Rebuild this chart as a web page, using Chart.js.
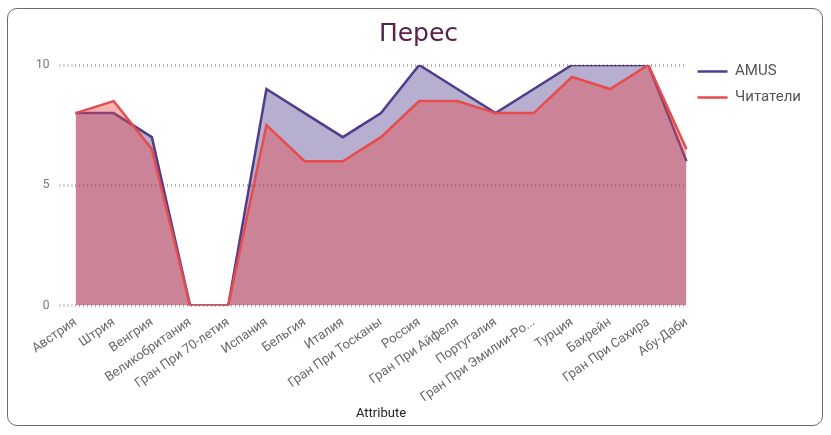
<!DOCTYPE html>
<html>
<head>
<meta charset="utf-8">
<script src="https://cdn.jsdelivr.net/npm/chart.js@4"></script>
<style>
    html, body { margin: 0; padding: 0; background: #fff; }
    #frame {
        position: absolute;
        left: 7px; top: 8px;
        width: 814px; height: 416px;
        border: 1px solid #6b6b6b;
        border-radius: 10px;
        overflow: hidden;
    }
    #chart { display: block; }
</style>
</head>
<body>
<div id="frame"><canvas id="chart" width="814" height="416"></canvas></div>
<script>
const categories = [
    'Австрия', 'Штрия', 'Венгрия', 'Великобритания', 'Гран При 70-летия',
    'Испания', 'Бельгия', 'Италия', 'Гран При Тосканы', 'Россия',
    'Гран При Айфеля', 'Португалия', 'Гран При Эмилии-Романьи', 'Турция',
    'Бахрейн', 'Гран При Сахира', 'Абу-Даби'
];
const amusValues = [8, 8, 7, 0, 0, 9, 8, 7, 8, 10, 9, 8, 9, 10, 10, 10, 6];
const readerValues = [8, 8.5, 6.5, 0, 0, 7.5, 6, 6, 7, 8.5, 8.5, 8, 8, 9.5, 9, 10, 6.5];
const yTicks = [0, 5, 10];

document.addEventListener('DOMContentLoaded', function () {
    renderChart();
});

function renderChart() {
    const ctx = document.getElementById('chart').getContext('2d');
    new Chart(ctx, {
        type: 'line',
        data: {
            labels: categories,
            datasets: [{
                label: 'AMUS',
                data: amusValues,
                borderColor: 'rgb(80, 60, 140)',
                backgroundColor: 'rgba(80, 60, 140, 0.41)',
                borderWidth: 2.5,
                fill: 'origin',
                pointRadius: 0,
                pointStyle: 'line',
                tension: 0,
                order: 1
            }, {
                label: 'Читатели',
                data: readerValues,
                borderColor: 'rgb(232, 75, 75)',
                backgroundColor: 'rgba(232, 75, 75, 0.42)',
                borderWidth: 2.5,
                fill: 'origin',
                pointRadius: 0,
                pointStyle: 'line',
                tension: 0,
                order: 0
            }]
        },
        options: {
            responsive: false,
            animation: false,
            layout: {
                padding: { top: 4, right: 11, bottom: 0, left: 18 }
            },
            scales: {
                x: {
                    offset: false,
                    grid: { display: false },
                    border: { display: false },
                    ticks: {
                        color: '#666',
                        font: { family: 'Roboto, "DejaVu Sans", sans-serif', size: 13 },
                        maxRotation: 35,
                        minRotation: 35,
                        autoSkip: false,
                        padding: 1,
                        callback: function (value) {
                            const label = categories[value];
                            return label.length > 20 ? label.slice(0, 18) + '...' : label;
                        }
                    },
                    title: {
                        display: true,
                        text: 'Attribute',
                        color: '#222',
                        font: { family: 'Roboto, "DejaVu Sans", sans-serif', size: 13 },
                        padding: { top: 0, bottom: 3 }
                    }
                },
                y: {
                    min: 0,
                    max: 10,
                    afterBuildTicks: function (scale) {
                        scale.ticks = yTicks.map(v => ({ value: v }));
                    },
                    border: { display: false, dash: [1, 3] },
                    grid: {
                        color: '#b3b3b3',
                        lineWidth: 3,
                        tickLength: 16,
                        tickBorderDash: [1, 3],
                        tickWidth: 3
                    },
                    ticks: {
                        color: '#777',
                        font: { family: 'Roboto, "DejaVu Sans", sans-serif', size: 12 },
                        padding: 10
                    }
                }
            },
            plugins: {
                title: {
                    display: true,
                    text: 'Перес',
                    color: '#5b2049',
                    font: { family: '"Comic Sans MS", "DejaVu Sans", sans-serif', size: 25, weight: 'normal' },
                    padding: { top: 6, bottom: 16 }
                },
                legend: {
                    display: true,
                    position: 'right',
                    align: 'start',
                    title: {
                        display: true,
                        text: ' ',
                        font: { size: 10 },
                        padding: { top: 28, bottom: 0 }
                    },
                    labels: {
                        usePointStyle: true,
                        pointStyleWidth: 30,
                        color: '#555',
                        font: { family: 'Roboto, "DejaVu Sans", sans-serif', size: 15 },
                        padding: 11,
                        sort: (a, b) => a.datasetIndex - b.datasetIndex
                    }
                },
                tooltip: { enabled: false }
            }
        }
    });
}
</script>
</body>
</html>
